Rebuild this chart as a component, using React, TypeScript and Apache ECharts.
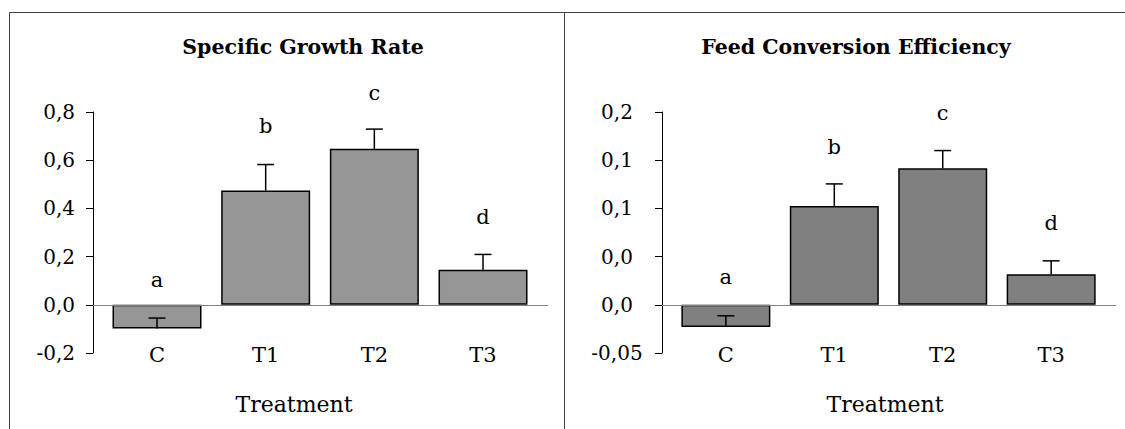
import React, { useEffect, useRef } from "react";
import * as echarts from "echarts";

// ---- data ----
const categories = ["C", "T1", "T2", "T3"];
const letters = ["a", "b", "c", "d"];

const sgrTitle = "Specific Growth Rate";
const sgrValues = [-0.098, 0.474, 0.647, 0.145];
const sgrErrors = [0.043, 0.108, 0.082, 0.064];
const sgrLetterLevels = [0.104, 0.74, 0.878, 0.366];
const sgrTickLabels = ["-0,2", "0,0", "0,2", "0,4", "0,6", "0,8"];

const fceTitle = "Feed Conversion Efficiency";
const fceValues = [-0.0231, 0.1026, 0.1417, 0.0318];
const fceErrors = [0.0117, 0.0228, 0.0183, 0.0138];
const fceLetterLevels = [0.0287, 0.164, 0.1987, 0.0853];
const fceTickLabels = ["-0,05", "0,0", "0,0", "0,1", "0,1", "0,2"];

const xName = "Treatment";

const FONT = "DejaVu Serif";

function panel(idx: number, opts: any) {
  const { values, errors, levels, ticks, min, max, interval, color, labelAlign, labelMargin } = opts;
  const xAxis = {
    type: "value",
    gridIndex: idx,
    min: -0.589,
    max: 3.598,
    axisLine: { show: false, onZero: false },
    axisTick: { show: false },
    splitLine: { show: false },
    axisLabel: {
      customValues: [0, 1, 2, 3],
      formatter: (v: number) => categories[Math.round(v)] ?? "",
      color: "#000",
      fontFamily: FONT,
      fontSize: 21,
      verticalAlign: "middle",
      margin: 2,
    },
  };
  const yAxis = {
    type: "value",
    gridIndex: idx,
    min,
    max,
    interval,
    axisLine: { show: true, onZero: false, lineStyle: { color: "#000", width: 1 } },
    axisTick: { show: true, length: 7, lineStyle: { color: "#000", width: 1 } },
    splitLine: { show: false },
    axisLabel: {
      formatter: (v: number) => ticks[Math.round((v - min) / interval)] ?? "",
      color: "#000",
      fontFamily: FONT,
      fontSize: 20,
      align: labelAlign,
      margin: labelMargin,
    },
  };
  const bar = {
    type: "bar",
    xAxisIndex: idx,
    yAxisIndex: idx,
    barWidth: 89,
    data: values.map((v: number, i: number) => [i, v]),
    itemStyle: { color, borderColor: "#000", borderWidth: 1.5 },
    markLine: {
      silent: true,
      symbol: ["none", "none"],
      label: { show: false },
      lineStyle: { color: "#808080", width: 1, type: "solid" },
      data: [{ yAxis: 0 }],
    },
    z: 2,
  };
  const err = {
    type: "custom",
    xAxisIndex: idx,
    yAxisIndex: idx,
    clip: false,
    z: 5,
    data: values.map((v: number, i: number) => [i, v, errors[i], levels[i]]),
    renderItem: (params: any, api: any) => {
      const i = params.dataIndex;
      const x = api.value(0);
      const v = api.value(1);
      const e = api.value(2);
      const ly = api.value(3);
      const p0 = api.coord([x, v]);
      const p1 = api.coord([x, v + e]);
      const pl = api.coord([x, ly]);
      return {
        type: "group",
        children: [
          { type: "line", shape: { x1: p0[0], y1: p0[1], x2: p1[0], y2: p1[1] }, style: { stroke: "#000", lineWidth: 1.5 } },
          { type: "line", shape: { x1: p1[0] - 8.5, y1: p1[1], x2: p1[0] + 8.5, y2: p1[1] }, style: { stroke: "#000", lineWidth: 1.5 } },
          {
            type: "text",
            x: pl[0],
            y: pl[1],
            style: { text: letters[i], fill: "#000", fontFamily: FONT, fontSize: 21, align: "center", verticalAlign: "middle" },
          },
        ],
      };
    },
  };
  return { xAxis, yAxis, series: [bar, err] };
}

export default function App() {
  const ref = useRef<HTMLDivElement>(null);
  useEffect(() => {
    if (!ref.current) return;
    const chart = echarts.init(ref.current, undefined, { renderer: "svg" });
    const p1 = panel(0, {
      values: sgrValues, errors: sgrErrors, levels: sgrLetterLevels, ticks: sgrTickLabels,
      min: -0.2, max: 0.8, interval: 0.2, color: "#969696", labelAlign: "right", labelMargin: 18,
    });
    const p2 = panel(1, {
      values: fceValues, errors: fceErrors, levels: fceLetterLevels, ticks: fceTickLabels,
      min: -0.05, max: 0.2, interval: 0.05, color: "#808080", labelAlign: "center", labelMargin: 45,
    });
    chart.setOption({
      animation: false,
      backgroundColor: "#fff",
      textStyle: { fontFamily: FONT },
      grid: [
        { left: 93, top: 112, width: 455, height: 241 },
        { left: 662, top: 112, width: 454, height: 241 },
      ],
      xAxis: [p1.xAxis, p2.xAxis],
      yAxis: [p1.yAxis, p2.yAxis],
      series: [...p1.series, ...p2.series],
      title: [
        { text: sgrTitle, left: 298, top: 31, textAlign: "center", textStyle: { fontFamily: FONT, fontSize: 20.5, fontWeight: "bold", color: "#000" } },
        { text: fceTitle, left: 851, top: 31, textAlign: "center", textStyle: { fontFamily: FONT, fontSize: 20.5, fontWeight: "bold", color: "#000" } },
        { text: xName, left: 289, top: 388, textAlign: "center", textStyle: { fontFamily: FONT, fontSize: 22, fontWeight: "normal", color: "#000" } },
        { text: xName, left: 880, top: 388, textAlign: "center", textStyle: { fontFamily: FONT, fontSize: 22, fontWeight: "normal", color: "#000" } },
      ],
      graphic: [
        { type: "rect", z: -1, shape: { x: 9.5, y: 12.5, width: 555, height: 500 }, style: { fill: "none", stroke: "#404040", lineWidth: 1 } },
        { type: "rect", z: -1, shape: { x: 564.5, y: 12.5, width: 600, height: 500 }, style: { fill: "none", stroke: "#404040", lineWidth: 1 } },
      ],
    });
    return () => chart.dispose();
  }, []);
  return <div ref={ref} style={{ position: "absolute", left: 0, top: 0, width: 1125, height: 429 }} />;
}
